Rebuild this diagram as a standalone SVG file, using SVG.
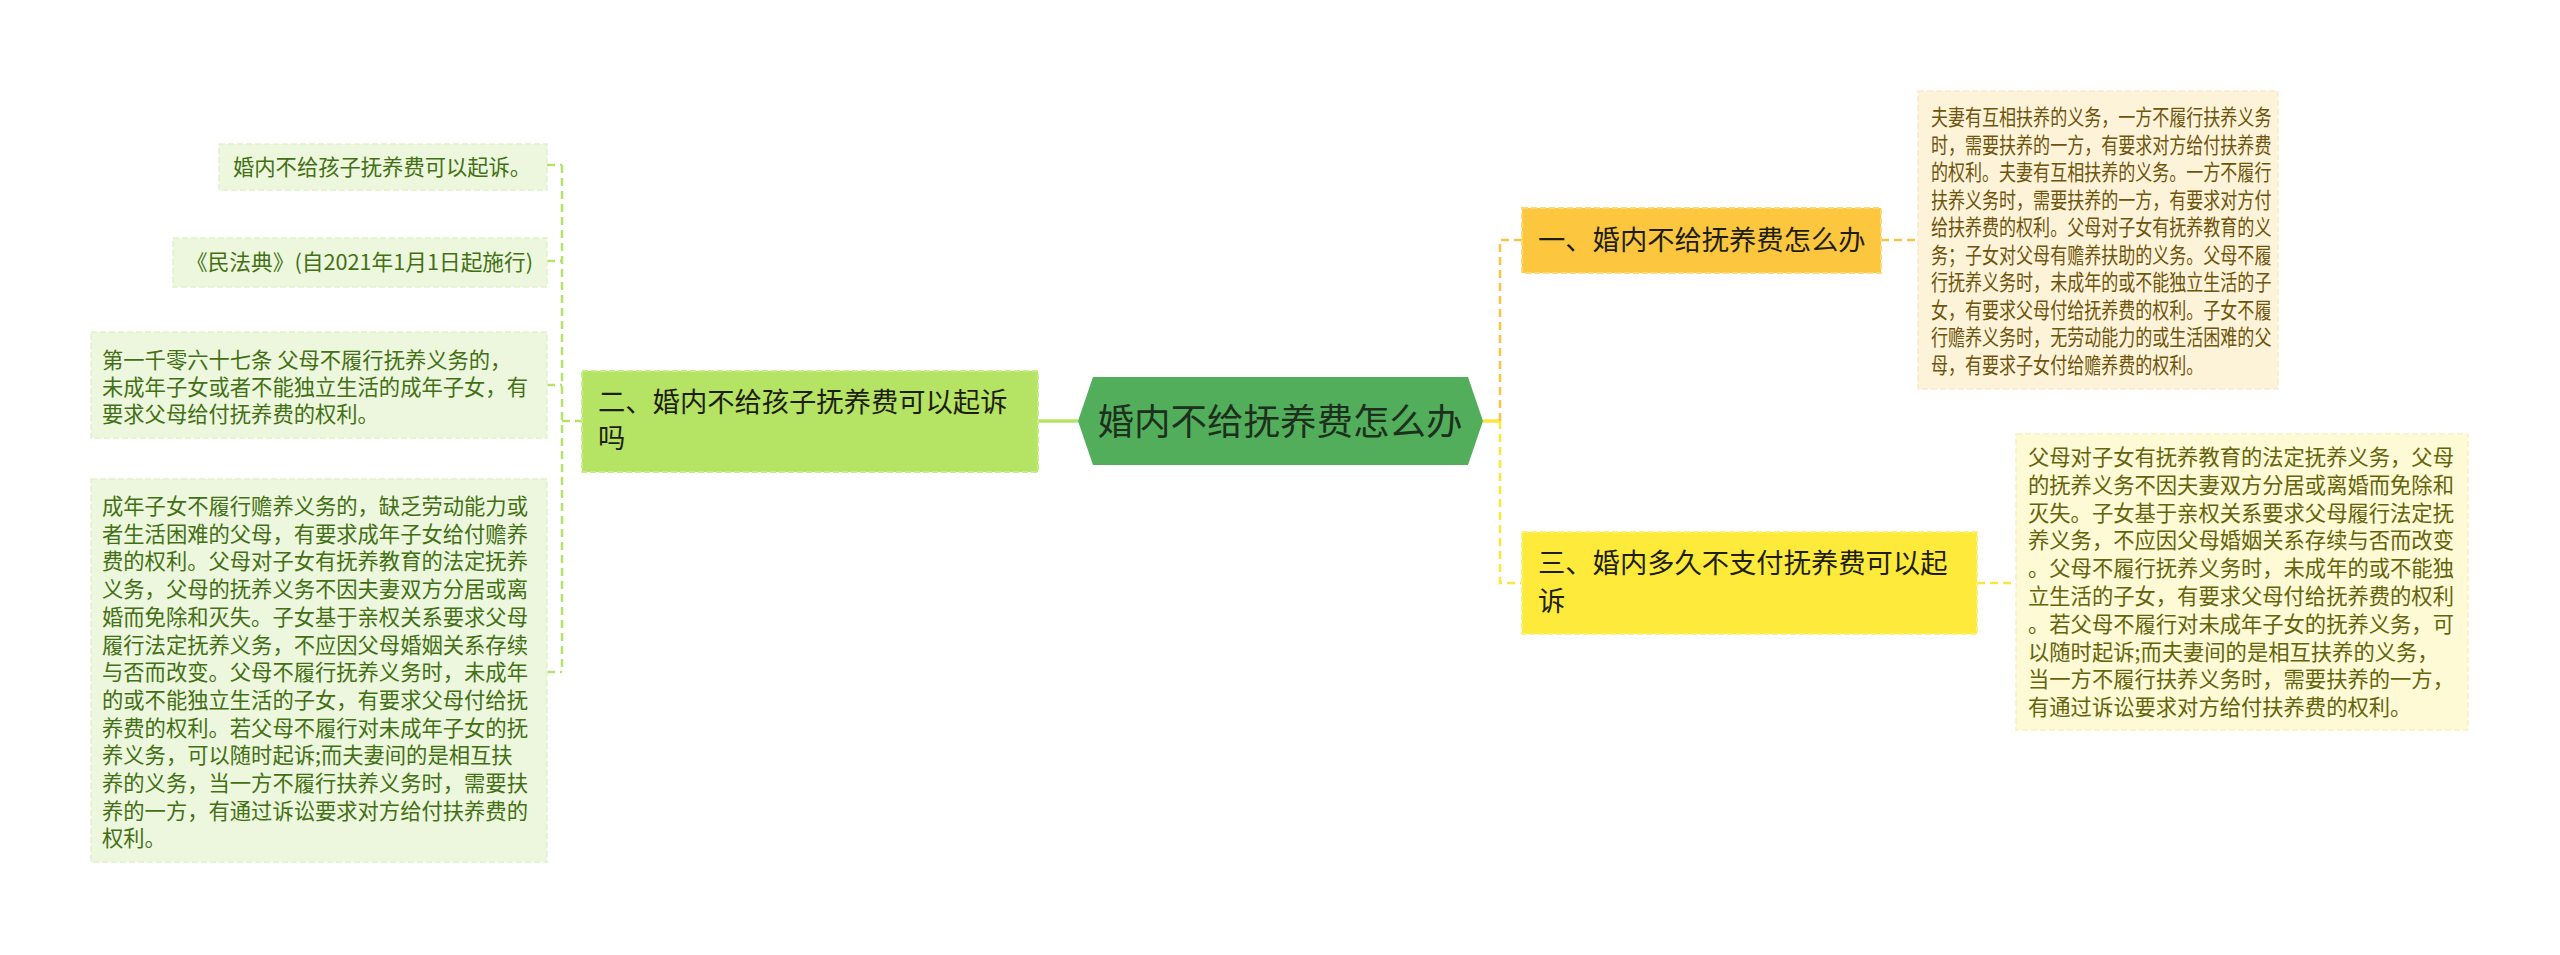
<svg xmlns="http://www.w3.org/2000/svg" width="2560" height="955" viewBox="0 0 2560 955">
<style>
text{font-family:"Noto Sans CJK SC","Noto Sans",sans-serif;}
.lleaf{fill:#edf7dd;stroke:#e2f1cc;stroke-width:1.5;stroke-dasharray:6 3;}
.ltxt{fill:#437015;font-size:21.3px;}
.rleaf1{fill:#fdf3d8;stroke:#f8ebc8;stroke-width:1.5;stroke-dasharray:6 3;}
.r1txt{fill:#6e540c;font-size:21.3px;}
.rleaf2{fill:#fefad5;stroke:#f7f2c2;stroke-width:1.5;stroke-dasharray:6 3;}
.r2txt{fill:#64640c;font-size:21.3px;}
.ntxt{fill:#1e1e10;font-size:27.3px;}
.dg{fill:none;stroke:#b5e36a;stroke-width:2.5;stroke-dasharray:8 5;}
.do{fill:none;stroke:#f7c443;stroke-width:2.5;stroke-dasharray:8 5;}
.dy{fill:none;stroke:#fbe63a;stroke-width:2.5;stroke-dasharray:8 5;}
</style>
<rect width="2560" height="955" fill="#ffffff"/>
<g id="connectors">
<line x1="1038" y1="421" x2="1078" y2="421" stroke="#b5e36a" stroke-width="3.5"/>
<line x1="1483" y1="421" x2="1500" y2="421" stroke="#fbe63a" stroke-width="3.5"/>
<path class="dg" d="M562 165 V672"/>
<path class="dg" d="M547 165 H562 M547 261 H562 M547 385 H562 M547 672 H562 M562 421 H581"/>
<path class="do" d="M1500 421 V240 H1522"/>
<path class="dy" d="M1500 421 V583 H1522"/>
<path class="do" d="M1881 240 H1918"/>
<path class="dy" d="M1977 583 H2016"/>
</g>
<g id="center">
<polygon points="1078,421 1093,377 1468,377 1483,421 1468,465 1093,465" fill="#52ae5b"/>
<text x="1280" y="435" text-anchor="middle" font-size="36.5" fill="#1d301d">婚内不给抚养费怎么办</text>
</g>
<g id="node-left">
<rect x="582" y="371" width="456" height="101" fill="#b5e363" stroke="#c6ee86" stroke-width="2" stroke-dasharray="6 3"/>
<text class="ntxt" x="598" y="412">二、婚内不给孩子抚养费可以起诉</text>
<text class="ntxt" x="598" y="448">吗</text>
</g>
<g id="node-1">
<rect x="1522" y="208" width="359" height="65" fill="#fcc73e" stroke="#fbd976" stroke-width="2" stroke-dasharray="6 3"/>
<text class="ntxt" x="1538" y="250">一、婚内不给抚养费怎么办</text>
</g>
<g id="node-3">
<rect x="1522" y="532" width="455" height="102" fill="#fdea3b" stroke="#fdf07a" stroke-width="2" stroke-dasharray="6 3"/>
<text class="ntxt" x="1538" y="573">三、婚内多久不支付抚养费可以起</text>
<text class="ntxt" x="1538" y="611">诉</text>
</g>
<g id="leaf-l1">
<rect class="lleaf" x="219" y="144" width="328" height="46"/>
<text class="ltxt" x="233" y="175">婚内不给孩子抚养费可以起诉。</text>
</g>
<g id="leaf-l2">
<rect class="lleaf" x="173" y="238" width="374" height="49"/>
<text class="ltxt" x="186" y="270" textLength="347" lengthAdjust="spacingAndGlyphs">《民法典》(自2021年1月1日起施行)</text>
</g>
<g id="leaf-l3">
<rect class="lleaf" x="91" y="332" width="456" height="106"/>
<text class="ltxt" x="102" y="368">第一千零六十七条 父母不履行抚养义务的，</text>
<text class="ltxt" x="102" y="395">未成年子女或者不能独立生活的成年子女，有</text>
<text class="ltxt" x="102" y="422">要求父母给付抚养费的权利。</text>
</g>
<g id="leaf-l4">
<rect class="lleaf" x="91" y="479" width="456" height="383"/>
<text class="ltxt" x="102" y="514">成年子女不履行赡养义务的，缺乏劳动能力或</text>
<text class="ltxt" x="102" y="541.7">者生活困难的父母，有要求成年子女给付赡养</text>
<text class="ltxt" x="102" y="569.4">费的权利。父母对子女有抚养教育的法定抚养</text>
<text class="ltxt" x="102" y="597.1">义务，父母的抚养义务不因夫妻双方分居或离</text>
<text class="ltxt" x="102" y="624.8">婚而免除和灭失。子女基于亲权关系要求父母</text>
<text class="ltxt" x="102" y="652.5">履行法定抚养义务，不应因父母婚姻关系存续</text>
<text class="ltxt" x="102" y="680.2">与否而改变。父母不履行抚养义务时，未成年</text>
<text class="ltxt" x="102" y="707.9">的或不能独立生活的子女，有要求父母付给抚</text>
<text class="ltxt" x="102" y="735.6">养费的权利。若父母不履行对未成年子女的抚</text>
<text class="ltxt" x="102" y="763.3">养义务，可以随时起诉;而夫妻间的是相互扶</text>
<text class="ltxt" x="102" y="791">养的义务，当一方不履行扶养义务时，需要扶</text>
<text class="ltxt" x="102" y="818.7">养的一方，有通过诉讼要求对方给付扶养费的</text>
<text class="ltxt" x="102" y="846.4">权利。</text>
</g>
<g id="leaf-r1">
<rect class="rleaf1" x="1918" y="91" width="360" height="298"/>
<g transform="translate(1931 0) scale(0.8 1)">
<text class="r1txt" x="0" y="125.5">夫妻有互相扶养的义务，一方不履行扶养义务</text>
<text class="r1txt" x="0" y="153">时，需要扶养的一方，有要求对方给付扶养费</text>
<text class="r1txt" x="0" y="180.5">的权利。夫妻有互相扶养的义务。一方不履行</text>
<text class="r1txt" x="0" y="208">扶养义务时，需要扶养的一方，有要求对方付</text>
<text class="r1txt" x="0" y="235.5">给扶养费的权利。父母对子女有抚养教育的义</text>
<text class="r1txt" x="0" y="263">务；子女对父母有赡养扶助的义务。父母不履</text>
<text class="r1txt" x="0" y="290.5">行抚养义务时，未成年的或不能独立生活的子</text>
<text class="r1txt" x="0" y="318">女，有要求父母付给抚养费的权利。子女不履</text>
<text class="r1txt" x="0" y="345.5">行赡养义务时，无劳动能力的或生活困难的父</text>
<text class="r1txt" x="0" y="373">母，有要求子女付给赡养费的权利。</text>
</g>
</g>
<g id="leaf-r2">
<rect class="rleaf2" x="2016" y="434" width="452" height="296"/>
<text class="r2txt" x="2028" y="465">父母对子女有抚养教育的法定抚养义务，父母</text>
<text class="r2txt" x="2028" y="492.8">的抚养义务不因夫妻双方分居或离婚而免除和</text>
<text class="r2txt" x="2028" y="520.6">灭失。子女基于亲权关系要求父母履行法定抚</text>
<text class="r2txt" x="2028" y="548.4">养义务，不应因父母婚姻关系存续与否而改变</text>
<text class="r2txt" x="2028" y="576.2">。父母不履行抚养义务时，未成年的或不能独</text>
<text class="r2txt" x="2028" y="604">立生活的子女，有要求父母付给抚养费的权利</text>
<text class="r2txt" x="2028" y="631.8">。若父母不履行对未成年子女的抚养义务，可</text>
<text class="r2txt" x="2028" y="659.6">以随时起诉;而夫妻间的是相互扶养的义务，</text>
<text class="r2txt" x="2028" y="687.4">当一方不履行扶养义务时，需要扶养的一方，</text>
<text class="r2txt" x="2028" y="715.2">有通过诉讼要求对方给付扶养费的权利。</text>
</g>
</svg>
